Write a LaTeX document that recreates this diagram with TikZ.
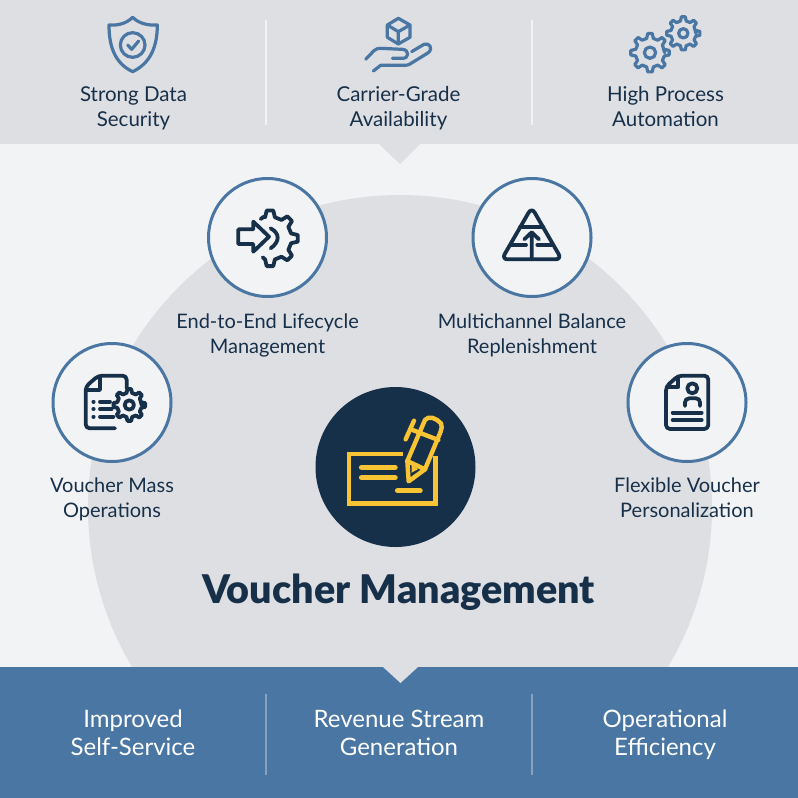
\documentclass[tikz,border=0pt]{standalone}
\usepackage{fontspec}
\setmainfont{Lato}
\newfontfamily\titlefont{Lato Black}
\usetikzlibrary{positioning,calc}
\definecolor{pagegray}{HTML}{F2F3F5}
\definecolor{bandgray}{HTML}{DEDFE3}
\definecolor{bandblue}{HTML}{4A76A3}
\definecolor{navy}{HTML}{17304A}
\definecolor{penyellow}{HTML}{F9C433}
\definecolor{sepblue}{HTML}{86A2C1}
\tikzset{
    badge/.style={circle,draw=bandblue,line width=3pt,fill=pagegray,minimum size=118pt,inner sep=0pt},
    midlabel/.style={align=center,text=navy,font=\fontsize{20}{25}\selectfont},
    toplabel/.style={align=center,anchor=base,text=navy,font=\fontsize{20.5}{25}\selectfont},
    botlabel/.style={align=center,anchor=base,text=white,font=\fontsize{24}{28}\selectfont},
    navyline/.style={draw=navy,line width=3.8pt,line cap=round,line join=round},
    blueline/.style={draw=bandblue,line width=3.2pt,line cap=round,line join=round},
    penline/.style={draw=penyellow,line width=4.4pt,line cap=round,line join=round},
}
% one tooth after another, goes inside a path
\newcommand{\gearteeth}[6]{\foreach \t in {#6} {
    -- ([shift={(#1,#2)}]\t*360/#5-0.29*360/#5:#3)
    -- ([shift={(#1,#2)}]\t*360/#5-0.15*360/#5:#4)
    -- ([shift={(#1,#2)}]\t*360/#5+0.15*360/#5:#4)
    -- ([shift={(#1,#2)}]\t*360/#5+0.29*360/#5:#3)}}
\begin{document}
\begin{tikzpicture}[x=1pt,y=-1pt]
    \useasboundingbox (0,0) rectangle (798,798);
    \fill[pagegray] (0,0) rectangle (798,798);

    % big disc, cut by the two bands
    \begin{scope}
        \clip (0,144) rectangle (798,668);
        \fill[bandgray] (400,507) circle (312);
    \end{scope}

    % bands
    \fill[bandgray] (0,0) rectangle (798,144);
    \fill[bandgray] (379,144) -- (400,164) -- (420,144) -- cycle;
    \fill[bandblue] (0,667) rectangle (798,798);
    \fill[bandgray] (383,667) -- (400.5,683) -- (418,667) -- cycle;

    \draw[pagegray,line width=2pt] (266,20) -- (266,125);
    \draw[pagegray,line width=2pt] (532,20) -- (532,125);
    \draw[sepblue,line width=2pt] (266,694) -- (266,775);
    \draw[sepblue,line width=2pt] (532,694) -- (532,775);

    % top band texts
    \node[toplabel] (security) at (133.5,126) {Strong Data\\Security};
    \node[toplabel] (carrier) at (398.5,126) {Carrier-Grade\\Availability};
    \node[toplabel] (process) at (665.5,126) {High Process\\Automation};

    % bottom band texts
    \node[botlabel] (selfserv) at (133,755) {Improved\\Self-Service};
    \node[botlabel] (revenue) at (399,755) {Revenue Stream\\Generation};
    \node[botlabel] (efficiency) at (665,755) {Operational\\Efficiency};

    % feature circles
    \node[badge] (b1) at (267.5,237.5) {};
    \node[badge] (b2) at (532,237.5) {};
    \node[badge] (b3) at (112,402.5) {};
    \node[badge] (b4) at (687,402.5) {};
    \node[midlabel] (l1) [below=12.5pt of b1] {End-to-End Lifecycle\\Management};
    \node[midlabel] (l2) [below=12.5pt of b2] {Multichannel Balance\\Replenishment};
    \node[midlabel] (l3) [below=11.5pt of b3] {Voucher Mass\\Operations};
    \node[midlabel] (l4) [below=11.5pt of b4] {Flexible Voucher\\Personalization};

    % centre
    \node[circle,fill=navy,minimum size=160pt,inner sep=0pt] (hub) at (395.5,467) {};
    \node[text=navy,font=\fontsize{39.5}{42}\titlefont] (title) at (398.5,592) {Voucher Management};

    % shield
    \begin{scope}[shift={(95,10)},x=0.3333pt,y=-0.3333pt]
        \draw[blueline] (113,22) .. controls (95,40) and (70,47) .. (42,45)
            .. controls (42,110) and (60,160) .. (113,185)
            .. controls (166,160) and (187,110) .. (187,45)
            .. controls (158,47) and (131,40) .. (113,22) -- cycle;
        \draw[blueline] (113,105) circle (37);
        \draw[blueline] (98,105) -- (110,118) -- (131,93);
    \end{scope}

    % hand with cube
    \begin{scope}[shift={(360,10)},x=0.3333pt,y=-0.3333pt]
        \draw[blueline] (115,25) -- (150,45) -- (150,82) -- (115,102) -- (82,82) -- (82,45) -- cycle;
        \draw[blueline] (82,45) -- (115,65) -- (150,45) (115,65) -- (115,102);
        \draw[blueline] (17,148) -- (42,122) .. controls (48,116) and (55,115) .. (62,115)
            -- (128,118) .. controls (148,120) and (148,145) .. (128,145) -- (97,145);
        \draw[blueline] (155,125) -- (192,103) .. controls (208,97) and (220,115) .. (205,128)
            -- (150,162) .. controls (145,165) and (140,166) .. (135,166) -- (62,166) -- (40,183);
    \end{scope}

    % two gears
    \begin{scope}[shift={(625,10)},x=0.3333pt,y=-0.3333pt]
        \draw[blueline] (213,70) \gearteeth{175}{70}{38}{50}{8}{0,...,7} -- cycle;
        \draw[blueline] (175,70) circle (14);
        \draw[blueline] (119,128) \gearteeth{75}{128}{44}{58}{8}{0,...,7} -- cycle;
        \draw[blueline] (75,128) circle (17);
    \end{scope}

    % arrow into gear
    \begin{scope}[shift={(200,170)},x=0.3333pt,y=-0.3333pt]
        \draw[navyline] (115,178) -- (160,178) -- (160,155) -- (207,200) -- (160,245) -- (160,222) -- (115,222) -- cycle;
        \draw[navyline] (212,175) .. controls (240,190) and (240,215) .. (212,235);
        \draw[navyline] (182,147) -- (192,140) \gearteeth{210}{205}{65}{84}{8}{-2,-1,0,1,2} -- (188,262);
    \end{scope}

    % pyramid
    \begin{scope}[shift={(465,170)},x=0.3333pt,y=-0.3333pt]
        \draw[navyline,rounded corners=6pt] (200,112) -- (290,268) -- (110,268) -- cycle;
        \draw[navyline] (165,172) -- (235,172);
        \draw[navyline] (140,225) -- (183,225) (217,225) -- (262,225);
        \draw[navyline] (200,200) -- (200,268) (178,208) -- (200,187) -- (222,208);
    \end{scope}

    % document and gear
    \begin{scope}[shift={(45,335)},x=0.3333pt,y=-0.3333pt]
        \draw[navyline,rounded corners=4pt] (210,280) -- (122,280) -- (122,155) -- (160,122) -- (245,122) -- (245,160);
        \draw[navyline] (165,125) -- (165,165) -- (125,165);
        \draw[navyline] (145,200) -- (146,200) (145,222) -- (146,222) (145,245) -- (146,245);
        \draw[navyline] (165,200) -- (195,200) (165,222) -- (200,222) (165,245) -- (205,245);
        \draw[navyline] (290,210) \gearteeth{253}{210}{37}{48}{8}{0,...,7} -- cycle;
        \draw[navyline] (253,210) circle (14);
    \end{scope}

    % document with person
    \begin{scope}[shift={(620,335)},x=0.3333pt,y=-0.3333pt]
        \draw[navyline,rounded corners=4pt] (175,122) -- (265,122) -- (265,282) -- (138,282) -- (138,155) -- cycle;
        \draw[navyline] (175,125) -- (175,155) -- (142,155);
        \draw[navyline] (217,160) circle (15);
        \draw[navyline] (195,213) -- (195,203) .. controls (195,195) and (200,190) .. (208,190) -- (228,190) .. controls (236,190) and (240,195) .. (240,203) -- (240,213);
        \draw[navyline] (158,233) -- (245,233) (158,255) -- (245,255);
    \end{scope}

    % cheque and pen
    \begin{scope}[shift={(310,380)},x=0.3333pt,y=-0.3333pt]
        \draw[penline,line cap=butt,line join=miter] (278,222) -- (117,222) -- (117,371) -- (376,371) -- (376,228);
        \draw[penline,line width=5.5pt] (155,262) -- (255,262) (155,293) -- (255,293) (263,332) -- (330,332);
        \draw[penline] (296,304) -- (292,243) -- (345,120) .. controls (355,105) and (380,115) .. (393,130)
            .. controls (397,140) and (395,145) .. (392,155) -- (345,268) -- cycle;
        \draw[penline] (292,243) -- (345,268);
        \draw[penline] (308,150) -- (385,180);
        \draw[penline] (287,178) -- (312,122);
        \fill[penyellow] (305,255) -- (325,267) -- (305,278) -- cycle;
    \end{scope}
\end{tikzpicture}
\end{document}
